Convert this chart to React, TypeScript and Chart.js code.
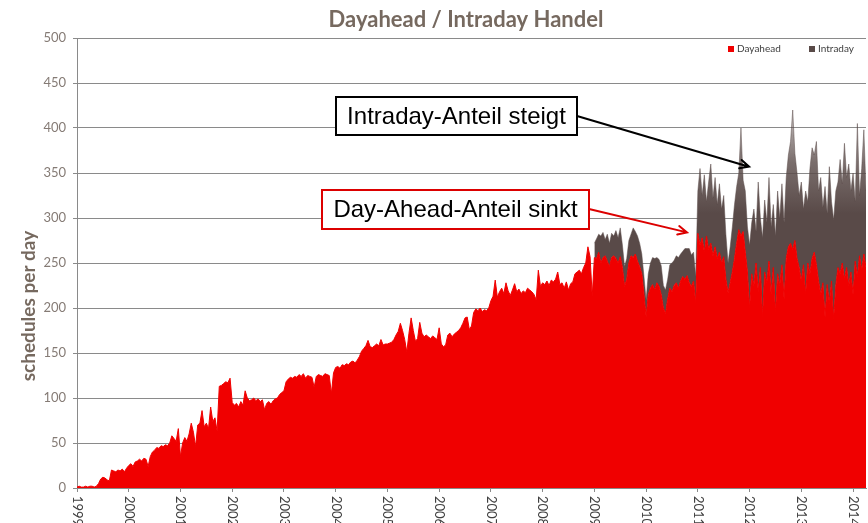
import React, { useEffect, useRef } from 'react';
import { Chart, registerables } from 'chart.js';

Chart.register(...registerables);

const TITLE = 'Dayahead / Intraday Handel';
const Y_TITLE = 'schedules per day';
const LABEL_DAYAHEAD = 'Dayahead';
const LABEL_INTRADAY = 'Intraday';
const NOTE_INTRADAY = 'Intraday-Anteil steigt';
const NOTE_DAYAHEAD = 'Day-Ahead-Anteil sinkt';

// half-monthly samples, starting 1 Jan 1999
const START_YEAR = 1999;
const STEPS_PER_YEAR = 24;
const INTRADAY_START_INDEX = 240; // 1 Jan 2009

const yearTicks = [1999, 2000, 2001, 2002, 2003, 2004, 2005, 2006, 2007, 2008, 2009, 2010, 2011, 2012, 2013, 2014];
const yTicks = [0, 50, 100, 150, 200, 250, 300, 350, 400, 450, 500];

const dayahead1999 = [1, 2, 1, 1, 2, 1, 2, 2, 1, 2, 5, 10, 12, 11, 9, 8, 20, 19, 18, 20, 19, 21, 18, 22];
const dayahead2000 = [25, 27, 24, 29, 30, 32, 30, 33, 32, 24, 35, 40, 42, 45, 44, 47, 46, 48, 47, 50, 58, 55, 52, 66];
const dayahead2001 = [35, 50, 56, 52, 60, 72, 62, 46, 70, 72, 86, 68, 72, 66, 90, 74, 78, 63, 113, 114, 116, 118, 117, 122];
const dayahead2002 = [95, 92, 94, 90, 96, 92, 108, 100, 97, 98, 100, 97, 99, 96, 98, 87, 94, 96, 93, 97, 99, 100, 104, 106];
const dayahead2003 = [108, 118, 121, 123, 122, 124, 123, 126, 124, 127, 122, 125, 124, 123, 112, 124, 126, 125, 124, 127, 126, 125, 105, 128];
const dayahead2004 = [134, 135, 133, 137, 136, 138, 137, 140, 141, 139, 142, 146, 152, 155, 158, 164, 157, 156, 158, 160, 158, 165, 159, 160];
const dayahead2005 = [160, 161, 162, 165, 170, 174, 183, 175, 165, 151, 172, 189, 175, 163, 166, 184, 172, 168, 170, 168, 166, 169, 167, 165];
const dayahead2006 = [178, 160, 157, 159, 170, 172, 168, 171, 173, 175, 178, 183, 189, 190, 176, 180, 195, 199, 197, 200, 196, 198, 197, 200];
const dayahead2007 = [208, 213, 231, 212, 218, 222, 216, 228, 219, 214, 220, 227, 218, 221, 216, 219, 217, 222, 220, 218, 215, 209, 242, 224];
const dayahead2008 = [228, 226, 230, 225, 231, 229, 232, 240, 226, 228, 222, 229, 220, 227, 229, 238, 240, 242, 238, 245, 250, 268, 257, 213];
const dayahead2009 = [256, 255, 262, 250, 256, 258, 252, 246, 256, 258, 255, 250, 257, 245, 224, 232, 250, 258, 256, 260, 252, 246, 238, 215];
const dayahead2010 = [190, 215, 222, 226, 220, 228, 224, 215, 200, 194, 210, 222, 218, 225, 228, 222, 230, 235, 232, 236, 228, 224, 230, 205];
const dayahead2011 = [283, 270, 278, 262, 280, 265, 272, 258, 268, 255, 262, 250, 257, 232, 217, 228, 240, 255, 272, 287, 280, 285, 262, 240];
const dayahead2012 = [200, 238, 225, 250, 218, 245, 190, 240, 228, 252, 215, 245, 195, 238, 225, 248, 210, 255, 268, 272, 265, 275, 255, 245];
const dayahead2013 = [230, 248, 215, 250, 238, 255, 262, 248, 230, 215, 228, 190, 226, 205, 230, 188, 225, 245, 238, 250, 232, 245, 225, 240];
const dayahead2014 = [215, 252, 235, 258, 242, 260, 245];

const intraday2009 = [16, 22, 20, 30, 28, 18, 30, 26, 27, 22, 31, 28, 32, 25, 22, 23, 25, 24, 33, 25, 28, 26, 22, 20];
const intraday2010 = [19, 23, 28, 30, 35, 28, 30, 32, 25, 26, 22, 26, 32, 28, 30, 34, 30, 28, 34, 30, 38, 35, 32, 30];
const intraday2011 = [47, 85, 47, 86, 38, 75, 88, 64, 77, 60, 76, 60, 68, 50, 33, 40, 50, 60, 63, 63, 120, 57, 68, 50];
const intraday2012 = [70, 57, 85, 35, 122, 55, 88, 80, 67, 93, 75, 70, 85, 92, 75, 90, 85, 90, 102, 113, 155, 97, 95, 80];
const intraday2013 = [110, 62, 115, 68, 117, 123, 108, 137, 100, 130, 84, 145, 79, 152, 88, 110, 105, 95, 127, 88, 151, 100, 135, 90];
const intraday2014 = [135, 66, 170, 67, 113, 138, 85];

const dayahead = [
  ...dayahead1999, ...dayahead2000, ...dayahead2001, ...dayahead2002, ...dayahead2003,
  ...dayahead2004, ...dayahead2005, ...dayahead2006, ...dayahead2007, ...dayahead2008,
  ...dayahead2009, ...dayahead2010, ...dayahead2011, ...dayahead2012, ...dayahead2013, ...dayahead2014,
];
const intraday = [
  ...intraday2009, ...intraday2010, ...intraday2011, ...intraday2012, ...intraday2013, ...intraday2014,
];

const RED = 'rgb(240,0,0)';
const DARK = 'rgb(89,74,72)';
const GRID = '#8a8a8a';
const TITLE_COLOR = '#76695f';

const xOf = (i: number) => START_YEAR + i / STEPS_PER_YEAR;

function arrow(ctx: CanvasRenderingContext2D, x1: number, y1: number, x2: number, y2: number, color: string) {
  ctx.save();
  ctx.strokeStyle = color;
  ctx.lineWidth = 2;
  ctx.lineCap = 'round';
  ctx.beginPath();
  ctx.moveTo(x1, y1);
  ctx.lineTo(x2, y2);
  const a = Math.atan2(y2 - y1, x2 - x1);
  const L = 10;
  const s = 0.45;
  ctx.moveTo(x2 - L * Math.cos(a - s), y2 - L * Math.sin(a - s));
  ctx.lineTo(x2, y2);
  ctx.lineTo(x2 - L * Math.cos(a + s), y2 - L * Math.sin(a + s));
  ctx.stroke();
  ctx.restore();
}

function noteBox(ctx: CanvasRenderingContext2D, l: number, t: number, r: number, b: number, color: string, text: string) {
  ctx.save();
  ctx.fillStyle = '#ffffff';
  ctx.fillRect(l, t, r - l, b - t);
  ctx.strokeStyle = color;
  ctx.lineWidth = 2;
  ctx.strokeRect(l, t, r - l, b - t);
  ctx.fillStyle = '#000000';
  ctx.font = '24px "Liberation Sans", Arial, sans-serif';
  ctx.textAlign = 'center';
  ctx.textBaseline = 'middle';
  ctx.fillText(text, (l + r) / 2, (t + b) / 2 + 1);
  ctx.restore();
}

const overlayPlugin = {
  id: 'overlay',
  afterDraw(chart: any) {
    const ctx: CanvasRenderingContext2D = chart.ctx;
    const xs = chart.scales.x;
    const ys = chart.scales.y;

    // title
    ctx.save();
    ctx.font = 'bold 22px Lato';
    ctx.fillStyle = TITLE_COLOR;
    ctx.textAlign = 'center';
    ctx.textBaseline = 'middle';
    ctx.fillText(TITLE, 466, 20);

    // y title
    ctx.translate(29, 306);
    ctx.rotate(-Math.PI / 2);
    ctx.font = 'bold 19px Lato';
    ctx.fillText(Y_TITLE, 0, 0);
    ctx.restore();

    // x tick labels, rotated clockwise
    ctx.save();
    ctx.font = '13px Lato';
    ctx.fillStyle = '#404040';
    for (const yr of yearTicks) {
      const px = xs.getPixelForValue(yr);
      ctx.save();
      ctx.translate(px, 496);
      ctx.rotate(Math.PI / 2);
      ctx.textAlign = 'left';
      ctx.textBaseline = 'middle';
      ctx.fillText(String(yr), 0, 0);
      ctx.restore();
    }
    ctx.restore();

    // legend
    ctx.save();
    ctx.font = '10px Lato';
    ctx.textBaseline = 'middle';
    ctx.textAlign = 'left';
    const legendX = [728, 809];
    const legendColors = [RED, DARK];
    chart.data.datasets.forEach((ds: any, k: number) => {
      ctx.fillStyle = legendColors[k];
      ctx.fillRect(legendX[k], 46, 6, 6);
      ctx.fillStyle = '#404040';
      ctx.fillText(ds.label, legendX[k] + 9, 49);
    });
    ctx.restore();

    // annotations
    arrow(ctx, 577, 116, xs.getPixelForValue(2011.99), ys.getPixelForValue(357), '#000000');
    noteBox(ctx, 336, 97, 577, 135, '#000000', NOTE_INTRADAY);
    arrow(ctx, 589, 209, xs.getPixelForValue(2010.79), ys.getPixelForValue(284), 'rgb(220,0,0)');
    noteBox(ctx, 322, 190, 589, 229, 'rgb(220,0,0)', NOTE_DAYAHEAD);
  },
};

// thin daily spikes in the original blend to a lighter grey toward the top
function intradayFill(context: any) {
  const chart = context.chart;
  const area = chart.chartArea;
  const ys = chart.scales.y;
  if (!area || !ys) return DARK;
  const yTop = ys.getPixelForValue(420);
  const yCore = ys.getPixelForValue(305);
  const g = chart.ctx.createLinearGradient(0, yCore, 0, yTop);
  g.addColorStop(0, 'rgba(89,74,72,1)');
  g.addColorStop(0.5, 'rgba(89,74,72,0.8)');
  g.addColorStop(1, 'rgba(89,74,72,0.35)');
  return g;
}

export default function App() {
  const ref = useRef<HTMLCanvasElement | null>(null);

  useEffect(() => {
    if (!ref.current) return;
    const chart = new Chart(ref.current, {
      type: 'line',
      data: {
        datasets: [
          {
            label: LABEL_DAYAHEAD,
            data: dayahead.map((v, i) => ({ x: xOf(i), y: v })),
            backgroundColor: RED,
            borderColor: RED,
            borderWidth: 1,
            pointRadius: 0,
            tension: 0,
            fill: 'origin',
          },
          {
            label: LABEL_INTRADAY,
            data: intraday.map((v, i) => ({ x: xOf(i + INTRADAY_START_INDEX), y: v })),
            backgroundColor: intradayFill,
            borderColor: 'rgba(89,74,72,0.5)',
            borderWidth: 1,
            pointRadius: 0,
            tension: 0,
            fill: '-1',
          },
        ],
      },
      options: {
        responsive: false,
        animation: false,
        events: [],
        layout: { padding: { top: 38, right: 2, left: 0, bottom: 0 } },
        plugins: {
          legend: { display: false },
          title: { display: false },
          tooltip: { enabled: false },
        },
        scales: {
          x: {
            type: 'linear',
            min: START_YEAR,
            max: xOf(dayahead.length - 1),
            afterBuildTicks: (s: any) => {
              s.ticks = yearTicks.map((v) => ({ value: v }));
            },
            afterFit: (s: any) => {
              s.height = 35;
            },
            ticks: { display: false },
            grid: { drawOnChartArea: false, drawTicks: true, tickLength: 4, color: GRID },
            border: { display: true, color: GRID },
          },
          y: {
            stacked: true,
            min: 0,
            max: 500,
            afterBuildTicks: (s: any) => {
              s.ticks = yTicks.map((v) => ({ value: v }));
            },
            afterFit: (s: any) => {
              s.width = 77;
            },
            ticks: { padding: 7, color: '#857b75', font: { family: 'Lato', size: 13 } },
            grid: { color: GRID, tickLength: 4 },
            border: { display: true, color: GRID },
          },
        },
      },
      plugins: [overlayPlugin],
    } as any);
    return () => chart.destroy();
  }, []);

  return (
    <div style={{ position: 'fixed', left: 0, top: 0, width: 868, height: 523, background: '#fff' }}>
      <canvas ref={ref} width={868} height={523} style={{ display: 'block' }} />
    </div>
  );
}
